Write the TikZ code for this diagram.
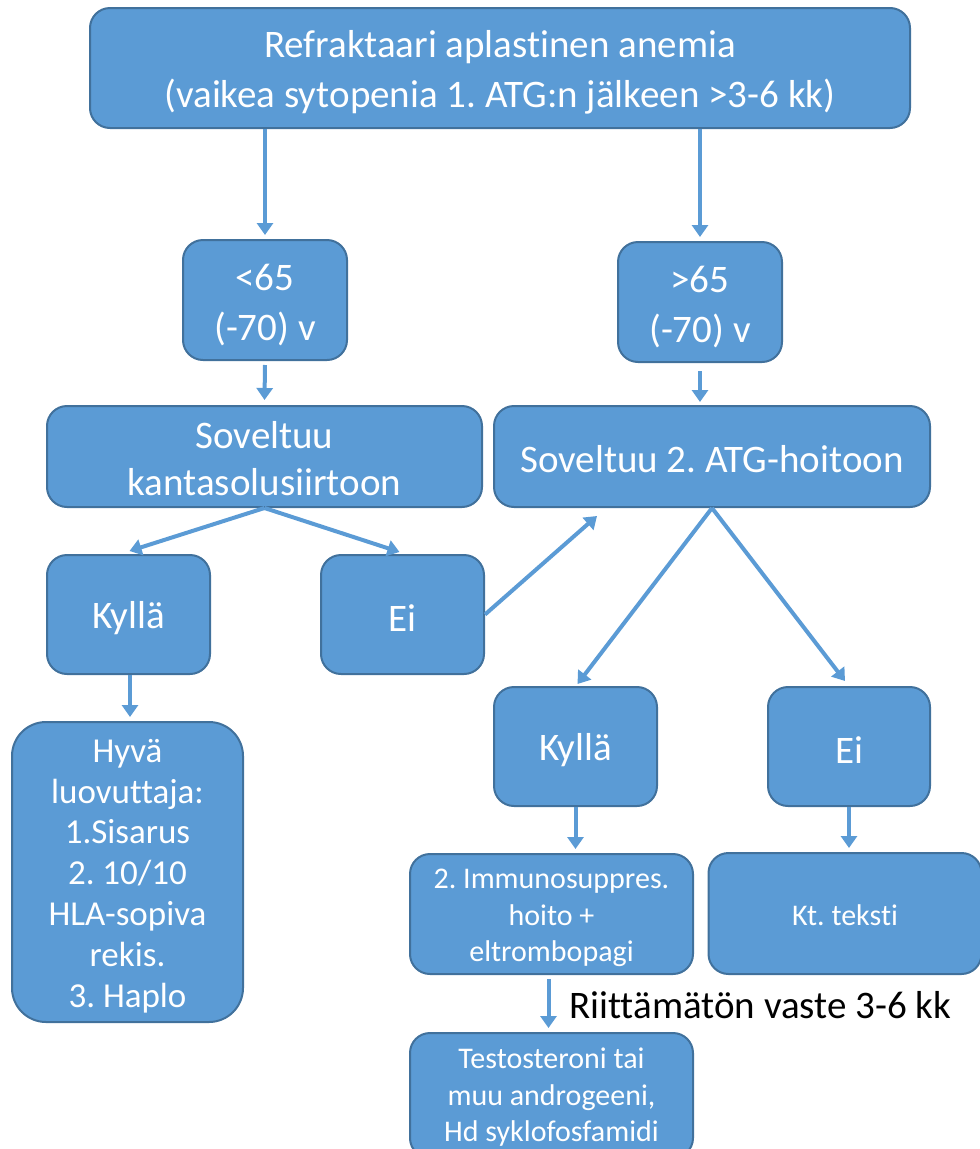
\documentclass[tikz,border=0pt]{standalone}
\usepackage{fontspec}
\setmainfont{Carlito}[Ligatures=NoCommon]
\frenchspacing
\usetikzlibrary{arrows.meta}
\definecolor{boxfill}{HTML}{5B9BD5}
\definecolor{boxline}{HTML}{41719C}
\begin{document}
\begin{tikzpicture}[x=1pt,y=-1pt,
  box/.style={draw=boxline, line width=2pt, fill=boxfill, rounded corners=20pt, inner sep=0pt},
  txt/.style={text=white, align=center, inner sep=0pt},
  big/.style={font=\fontsize{39}{50}\selectfont},
  small/.style={font=\fontsize{30}{36.5}\selectfont},
  conn/.style={draw=boxfill, line width=4pt, -{Triangle[length=12pt,width=16pt]}}]
\useasboundingbox (0,0) rectangle (980,1149);
% boxes
\node[box,minimum width=820pt,minimum height=120pt] (top) at (500,68) {};
\node[box,minimum width=164pt,minimum height=120pt] (lt) at (265,300) {};
\node[box,minimum width=164pt,minimum height=120pt] (gt) at (700,302) {};
\node[box,minimum width=435pt,minimum height=101pt] (kanta) at (264.5,456.5) {};
\node[box,minimum width=436pt,minimum height=101pt] (atg) at (712,456.5) {};
\node[box,minimum width=163pt,minimum height=119pt] (kyl1) at (128.5,614.5) {};
\node[box,minimum width=163pt,minimum height=119pt] (ei1) at (402.5,614.5) {};
\node[box,minimum width=163pt,minimum height=119pt] (kyl2) at (575.5,746.5) {};
\node[box,minimum width=162pt,minimum height=119pt] (ei2) at (849,746.5) {};
\node[box,minimum width=231pt,minimum height=300pt,rounded corners=34pt] (hyva) at (127.5,872) {};
\node[box,minimum width=283pt,minimum height=120pt] (imm) at (551.5,914) {};
\node[box,minimum width=273pt,minimum height=121pt] (kt) at (845,913.5) {};
\node[box,minimum width=283pt,minimum height=125pt,anchor=north] (test) at (551.5,1032) {};
% texts
\node[txt,big] (topT) at ([yshift=-4pt]top.center) {Refraktaari aplastinen anemia\\(vaikea sytopenia 1. ATG:n jälkeen >3-6 kk)};
\node[txt,big] (ltT) at ([yshift=-5pt]lt.center) {<65\\(-70) v};
\node[txt,big] (gtT) at ([yshift=-5pt]gt.center) {>65\\(-70) v};
\node[txt,font=\fontsize{39}{47}\selectfont] (kantaT) at ([yshift=-2pt]kanta.center) {Soveltuu\\kantasolusiirtoon};
\node[txt,big] (atgT) at ([yshift=-3pt]atg.center) {Soveltuu 2. ATG-hoitoon};
\node[txt,big] (kyl1T) at ([yshift=-4pt]kyl1.center) {Kyllä};
\node[txt,big] (ei1T) at ([yshift=-4pt]ei1.center) {Ei};
\node[txt,big] (kyl2T) at ([yshift=-4pt]kyl2.center) {Kyllä};
\node[txt,big] (ei2T) at ([yshift=-4pt]ei2.center) {Ei};
\node[txt,font=\fontsize{35}{40.8}\selectfont] (hyvaT) at ([yshift=-4pt]hyva.center) {Hyvä\\luovuttaja:\\1.Sisarus\\2. 10/10\\HLA-sopiva\\rekis.\\3. Haplo};
\node[txt,small] (immT) at ([yshift=-4pt]imm.center) {2. Immunosuppres.\\hoito +\\eltrombopagi};
\node[txt,small] (ktT) at ([yshift=-2pt]kt.center) {Kt. teksti};
\node[txt,small] (testT) at ([yshift=-2pt]test.center) {Testosteroni tai\\muu androgeeni,\\Hd syklofosfamidi};
\node[big,text=black,anchor=west,inner sep=0pt] (vaste) at (569,1005) {Riittämätön vaste 3-6 kk};
% connectors
\draw[conn] ([xshift=-235pt]top.south) -- ([yshift=4pt]lt.north);
\draw[conn] ([xshift=200pt]top.south) -- ([yshift=4pt]gt.north);
\draw[conn] ([yshift=-4pt]lt.south) -- ([yshift=5pt]kanta.north);
\draw[conn] ([yshift=-8pt]gt.south) -- ([yshift=3pt]kanta.north -| gt.south);
\draw[conn] (kanta.south) -- ([xshift=1pt,yshift=3pt]kyl1.north);
\draw[conn] (kanta.south) -- ([xshift=-3pt,yshift=2pt]ei1.north);
\draw[conn] (ei1.east) -- ([xshift=-115pt,yshift=-8pt]atg.south);
\draw[conn] (atg.south) -- ([xshift=2pt,yshift=2pt]kyl2.north);
\draw[conn] (atg.south) -- ([xshift=-4pt,yshift=5pt]ei2.north);
\draw[conn,shorten >=4pt] ([xshift=1.5pt]kyl1.south) -- ([xshift=1.5pt]kyl1.south |- hyva.north);
\draw[conn,shorten >=4pt] (kyl2.south) -- (kyl2.south |- imm.north);
\draw[conn,shorten >=4pt] (ei2.south) -- (ei2.south |- kt.north);
\draw[conn,shorten >=4pt] ([xshift=-3pt,yshift=-4pt]imm.south) -- ([xshift=-3pt]imm.south |- test.north);
\end{tikzpicture}
\end{document}
